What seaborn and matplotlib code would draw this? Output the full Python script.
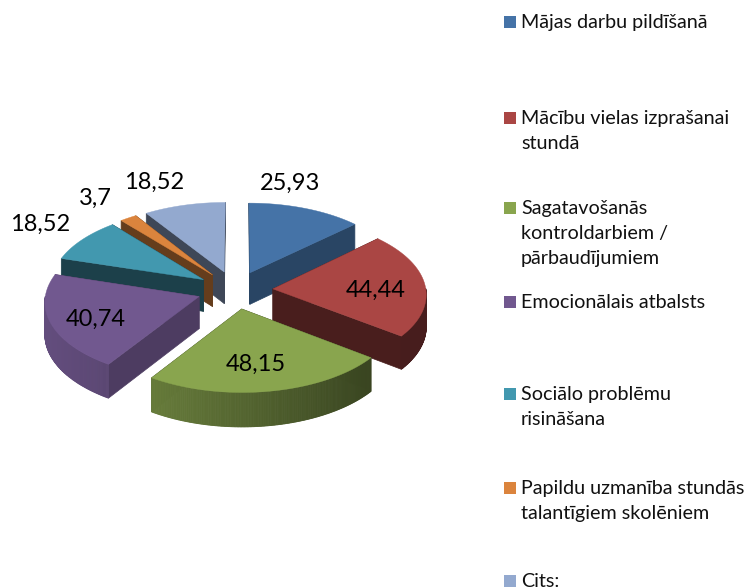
"""
Exploded 3D style pie chart with the legend on the right.
"""

import numpy as np
import seaborn as sns
import matplotlib.pyplot as plt
from matplotlib.colors import to_rgb
from matplotlib.patches import Polygon, Rectangle

# chart data
categories = ["Mājas darbu pildīšanā",
              "Mācību vielas izprašanai\nstundā",
              "Sagatavošanās\nkontroldarbiem /\npārbaudījumiem",
              "Emocionālais atbalsts",
              "Sociālo problēmu\nrisināšana",
              "Papildu uzmanība stundās\ntalantīgiem skolēniem",
              "Cits:"]
values = [25.93, 44.44, 48.15, 40.74, 18.52, 3.7, 18.52]
value_labels = ["25,93", "44,44", "48,15", "40,74", "18,52", "3,7", "18,52"]
colors = ["#4573A7", "#AA4644", "#89A54E", "#71588F",
          "#4298AF", "#DB843D", "#93A9CF"]

# layout, in pixels of the picture
label_xy = [(290, 183), (376, 290), (256, 364), (96, 319),
            (40, 224), (95, 198), (154, 182)]
legend_y = [22, 118, 208, 302, 394, 488, 581]
draw_order = [6, 5, 4, 3, 0, 1, 2]
cx, cy = 235, 290
rx = 153
explode = 38
squash = 0.5
persp = 0.0004
depth = 32

sns.set_theme(style="white")
plt.rcParams["font.family"] = ["Lato", "DejaVu Sans"]


def project(x, y, level=0.0):
    """ Takes plane coordinates (y towards the viewer) and gives picture
    coordinates, level is the distance below the top face.
    """
    s = 1 + y * persp
    return cx + x * s, cy + squash * y * s + level * s


def shade(color, x):
    """ Darkens a colour for the outer wall, lighter on the left side.
    """
    f = np.interp(x, [43, 152, 370, 430], [0.88, 0.75, 0.42, 0.42])
    return tuple(c * f for c in to_rgb(color))


def dark(color, f):
    return tuple(c * f for c in to_rgb(color))


def draw_slice(ax, start, end, color, wall_factor):
    mid = np.radians((start + end) / 2)
    ox, oy = explode * np.sin(mid), -explode * np.cos(mid)
    angles = np.radians(np.arange(start, end + 0.5, 0.5))
    xs = ox + rx * np.sin(angles)
    ys = oy - rx * np.cos(angles)

    # cut faces first, the outer wall and top cover the hidden ones
    for i in [0, -1]:
        quad = [project(ox, oy), project(xs[i], ys[i]),
                project(xs[i], ys[i], depth), project(ox, oy, depth)]
        c = dark(color, wall_factor)
        ax.add_patch(Polygon(quad, closed=True, fc=c, ec=c, lw=0.5))

    # outer wall, only the part facing the viewer
    for i in range(len(xs) - 1):
        if -np.cos(angles[i]) < 0 and -np.cos(angles[i + 1]) < 0:
            continue
        quad = [project(xs[i], ys[i]), project(xs[i + 1], ys[i + 1]),
                project(xs[i + 1], ys[i + 1], depth),
                project(xs[i], ys[i], depth)]
        c = shade(color, quad[0][0])
        ax.add_patch(Polygon(quad, closed=True, fc=c, ec=c, lw=0.6))

    # top face
    top = [project(ox, oy)] + [project(a, b) for a, b in zip(xs, ys)]
    ax.add_patch(Polygon(top, closed=True, fc=color, ec=color, lw=0.3))


def main():
    fig = plt.figure(figsize=(7.48, 5.87), dpi=100)
    ax = fig.add_axes([0, 0, 1, 1])
    ax.set_xlim(0, 748)
    ax.set_ylim(587, 0)
    ax.axis("off")

    sweep = np.array(values) / sum(values) * 360
    edges = np.concatenate([[0], np.cumsum(sweep)])
    wall_factors = [0.6, 0.43, 0.42, 0.68, 0.42, 0.46, 0.42]
    for i in draw_order:
        draw_slice(ax, edges[i], edges[i + 1], colors[i], wall_factors[i])

    for (x, y), label in zip(label_xy, value_labels):
        ax.text(x, y, label, fontsize=17, color="black",
                ha="center", va="center")

    for y, name, color in zip(legend_y, categories, colors):
        ax.add_patch(Rectangle((504, y - 6), 12, 12, fc=color, ec="none"))
        ax.text(521, y - 8, name, fontsize=14.2, color="#111111", ha="left",
                va="top", linespacing=1.58)

    fig.savefig("out.png", dpi=100)


if __name__ == '__main__':
    main()
